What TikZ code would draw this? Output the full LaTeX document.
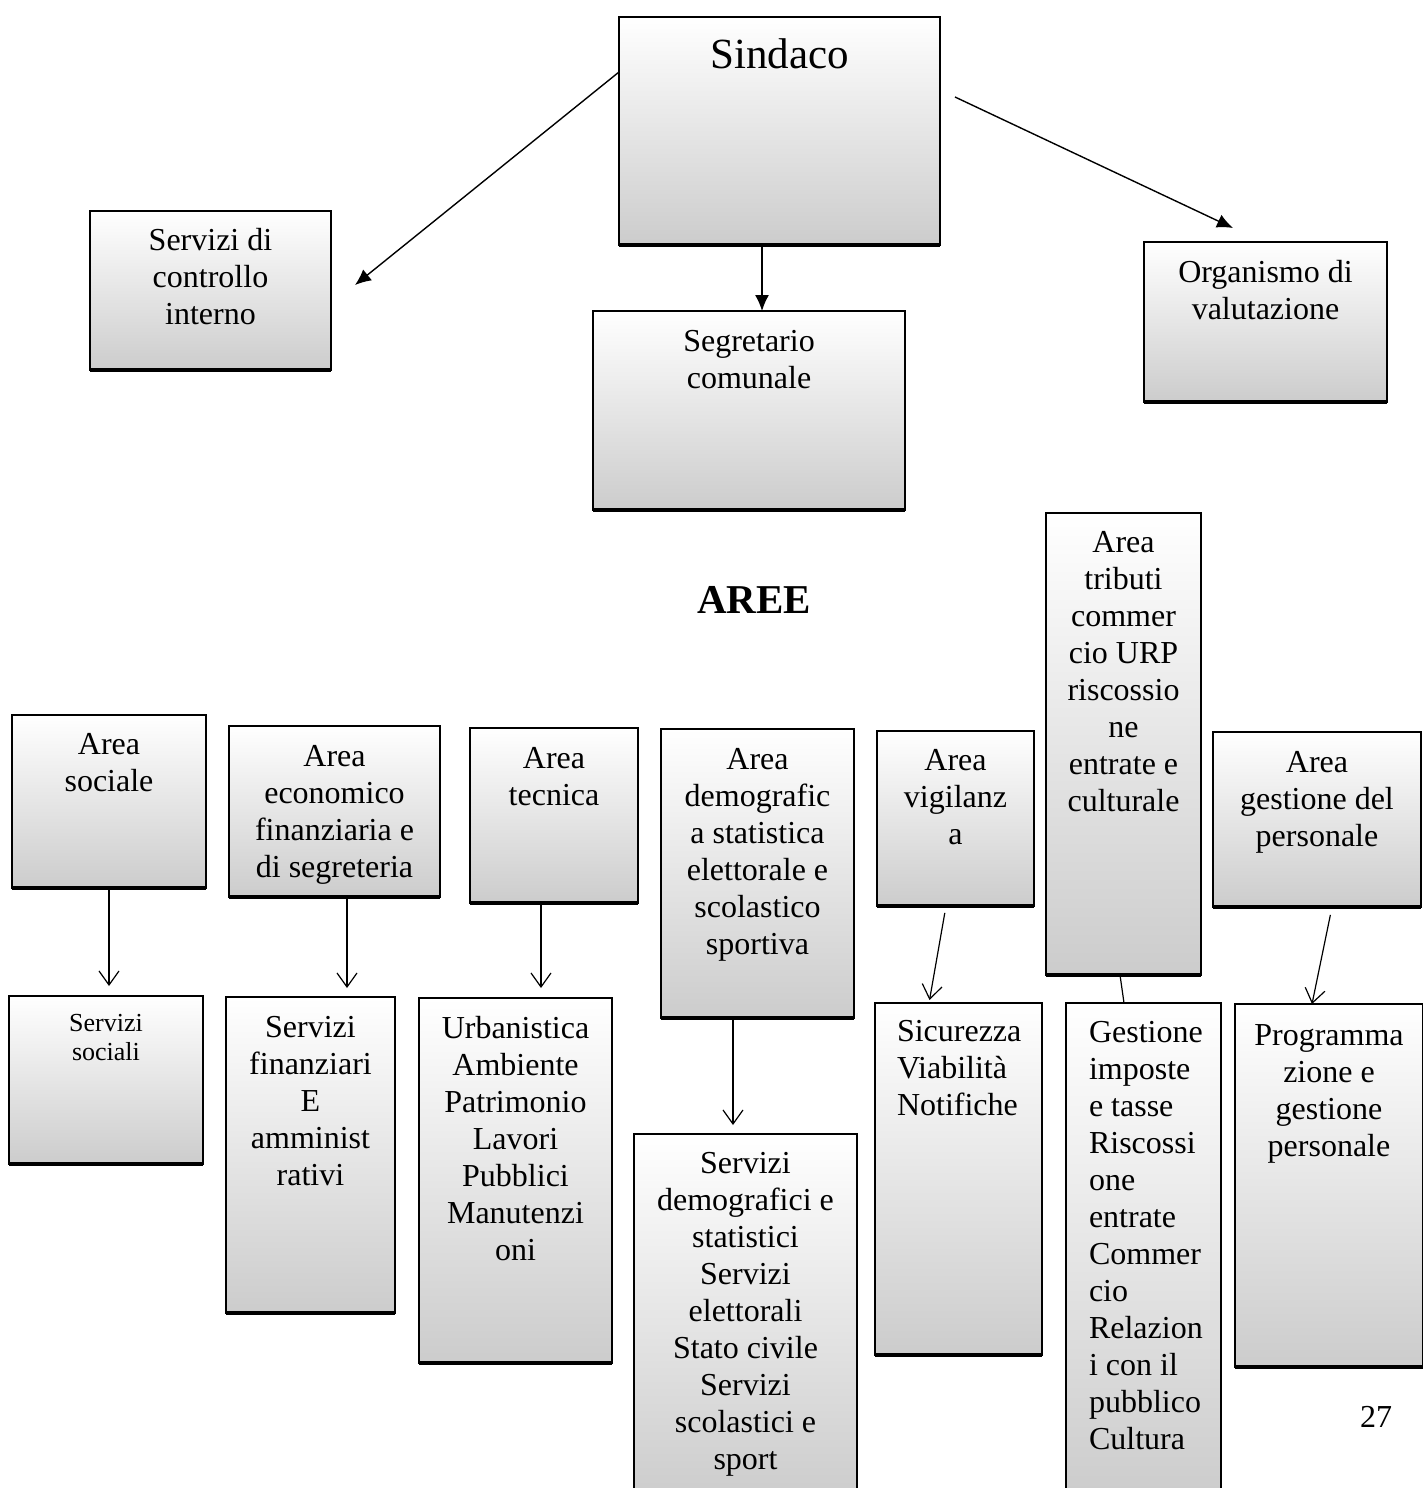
\documentclass[tikz,border=0pt]{standalone}
\usepackage{fontspec}
\setmainfont{Liberation Serif}
\usetikzlibrary{arrows.meta}
\tikzset{
  ob/.style={draw, line width=0.7pt, top color=white, middle color=black!5,
    bottom color=black!20, inner sep=0pt, outer sep=0pt,
    font=\fontsize{16}{18.5}\selectfont},
  filledarrow/.style={line width=0.7pt, -{Latex[length=8pt,width=7pt]}},
  openarr/.style={line width=0.6pt, -{Straight Barb[length=7pt,width=10pt]}},
  plainline/.style={line width=0.6pt},
  bottomedge/.style={line width=1.7pt}
}
% #1 alignment, #2 name, #3 x1, #4 y1, #5 x2, #6 y2, #7 first baseline, #8 text
\newcommand\orgbox[8][\centering]{%
  \node[ob, anchor=north west] (#2) at (#3,#4)
  {\parbox[t][\dimexpr(#6pt-#4pt)/2\relax][t]{\dimexpr(#5pt-#3pt)/2\relax}%
    {#1\rule{0pt}{\dimexpr(#7pt-#4pt)/2\relax}#8}};}
\begin{document}
\begin{tikzpicture}[x=0.5pt,y=-0.5pt]
\useasboundingbox (0,0) rectangle (1423,1488);
\fill[white] (0,0) rectangle (1423,1488);
\clip (0,0) rectangle (1423,1488);

\orgbox[\centering\fontsize{21.5}{25}\selectfont]{sindaco}{619}{17}{940}{245}{68}{Sindaco}
\orgbox{sci}{90}{211}{331}{370}{250}{Servizi di\\controllo\\interno}
\orgbox{segr}{593}{311}{905}{510}{351}{Segretario\\comunale}
\orgbox{org}{1144}{242}{1387}{402}{282}{Organismo di\\valutazione}

\node[font=\bfseries\fontsize{20.5}{24}\selectfont] (aree) at (754,600) {AREE};

\orgbox{atrib}{1046}{513}{1201}{975}{552}{Area\\tributi\\commer\\cio URP\\riscossio\\ne\\entrate e\\culturale}
\orgbox{asoc}{12}{715}{206}{888}{754}{Area\\sociale}
\orgbox{aeco}{229}{726}{440}{897}{766}{Area\\economico\\finanziaria e\\di segreteria}
\orgbox{atec}{470}{728}{638}{903}{768}{Area\\tecnica}
\orgbox{adem}{661}{729}{854}{1018}{769}{Area\\demografic\\a statistica\\elettorale e\\scolastico\\sportiva}
\orgbox{avig}{877}{731}{1034}{906}{770}{Area\\vigilanz\\a}
\orgbox{ages}{1213}{732}{1421}{907}{772}{Area\\gestione del\\personale}

\orgbox[\centering\fontsize{13}{14.5}\selectfont]{ssoc}{9}{996}{203}{1164}{1031}{Servizi\\sociali}
\orgbox{sfin}{226}{997}{395}{1313}{1037}{Servizi\\finanziari\\E\\amminist\\rativi}
\orgbox{surb}{419}{998}{612}{1363}{1038}{Urbanistica\\Ambiente\\Patrimonio\\Lavori\\Pubblici\\Manutenzi\\oni}
\orgbox{sdem}{634}{1134}{857}{1500}{1173}{Servizi\\demografici e\\statistici\\Servizi\\elettorali\\Stato civile\\Servizi\\scolastici e\\sport}
\orgbox[\raggedright\leftskip=11pt]{ssic}{875}{1003}{1042}{1355}{1041}{Sicurezza\\Viabilità\\Notifiche}
\orgbox[\raggedright\leftskip=11.5pt]{sgest}{1066}{1003}{1221}{1500}{1042}{Gestione\\imposte\\e tasse\\Riscossi\\one\\entrate\\Commer\\cio\\Relazion\\i con il\\pubblico\\Cultura}
\orgbox{sprog}{1235}{1004}{1423}{1367}{1045}{Programma\\zione e\\gestione\\personale}

\foreach \n in {sindaco,sci,segr,org,atrib,asoc,aeco,atec,adem,avig,ages,ssoc,sfin,surb,ssic,sprog}
  \draw[bottomedge] (\n.south west) -- (\n.south east);

\node[font=\fontsize{16}{18.5}\selectfont] (pagenum) at (1376,1417) {27};

% top connectors
\coordinate (tipl) at (355,285);
\coordinate (startr) at (955,97);
\coordinate (tipr) at (1233,228);
\draw[filledarrow] ([yshift=-27.5pt]sindaco.north west) -- (tipl);
\draw[filledarrow] (sindaco.south -| 762,0) -- (segr.north -| 762,0);
\draw[filledarrow] (startr) -- (tipr);

% area connectors
\draw[openarr, shorten >=5pt] (asoc.south -| 109,0) -- (ssoc.north -| 109,0);
\draw[openarr, shorten >=4.5pt] (aeco.south -| 347,0) -- (sfin.north -| 347,0);
\draw[openarr, shorten >=5pt] (atec.south -| 541,0) -- (surb.north -| 541,0);
\draw[openarr, shorten >=4.5pt] (adem.south -| 733,0) -- (sdem.north -| 733,0);
\draw[openarr, shorten <=3.5pt, shorten >=1.5pt] (avig.south -| 946,0) -- (ssic.north -| 929,0);
\draw[plainline] (atrib.south -| 1120,0) -- (sgest.north -| 1124,0);
\draw[openarr, shorten <=4pt] (ages.south -| 1332,0) -- (sprog.north -| 1312,0);
\end{tikzpicture}
\end{document}
